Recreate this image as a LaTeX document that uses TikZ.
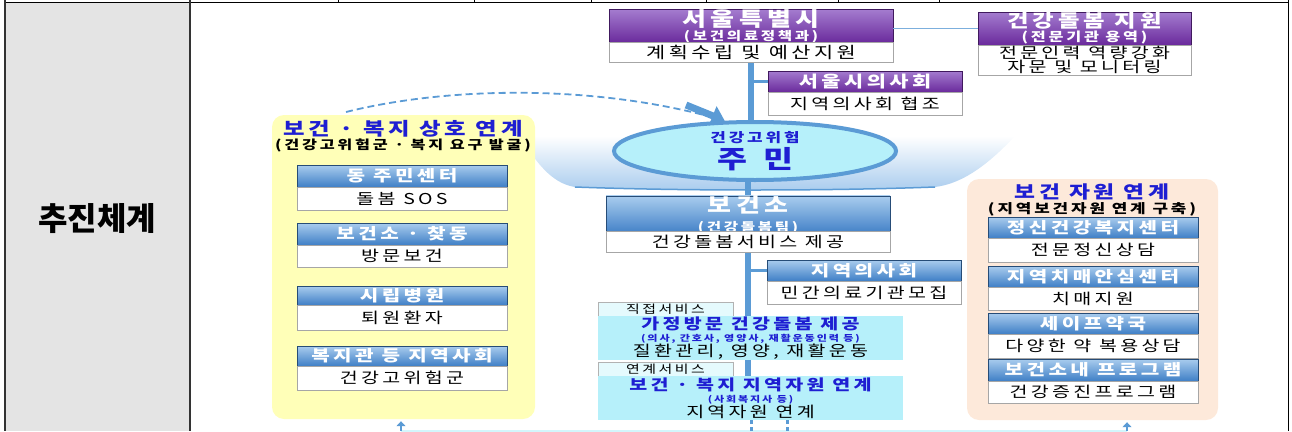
\documentclass[tikz,border=0pt]{standalone}
\usepackage{fontspec}
\setmainfont{Noto Sans CJK KR}[FakeStretch=1.3, LetterSpace=22]
\newfontfamily\titulo{Noto Sans CJK KR}
\usetikzlibrary{shapes.geometric,arrows.meta,backgrounds}
\newcommand{\tam}[2]{\fontsize{#1}{#2}\selectfont}
\definecolor{morado}{HTML}{6A2A9C}
\definecolor{moradoclaro}{HTML}{A47CCF}
\definecolor{azul}{HTML}{3F7FC6}
\definecolor{azulclaro}{HTML}{A9CCEE}
\definecolor{tronco}{HTML}{5B9BD5}
\definecolor{cian}{HTML}{B6F0FA}
\definecolor{amarillo}{HTML}{FFFFB8}
\definecolor{durazno}{HTML}{FDE9DA}
\definecolor{grisfondo}{HTML}{E4E4E4}
\definecolor{tinta}{HTML}{1E1ED2}
\begin{document}
\begin{tikzpicture}[x=1pt, y=-1pt,
        cabmorada/.style={top color=moradoclaro, bottom color=morado, draw=morado!60!black, line width=0.6pt, text=white, font=\bfseries, align=center, inner sep=0pt},
        cabazul/.style={top color=azulclaro, bottom color=azul, draw=azul!60!black, line width=0.6pt, text=white, font=\bfseries\tam{15.5}{18}, align=center, inner sep=0pt, minimum width=210, minimum height=21},
        cajablanca/.style={draw=gray!70, line width=0.7pt, fill=white, align=center, inner sep=0pt, font=\tam{15}{17}},
        cajacian/.style={fill=cian, align=center, inner sep=0pt, minimum width=305, minimum height=44},
        etiqueta/.style={draw=gray!60, line width=0.6pt, fill=cian!35, inner sep=0pt, minimum width=135, text height=10pt, text depth=2pt, font=\tam{11.5}{12}},
        grupo/.style={rounded corners=12pt, inner sep=0pt},
        titazul/.style={text=tinta, font=\bfseries\tam{18}{18}, inner sep=0pt},
        subtit/.style={font=\bfseries\tam{12.5}{13}, inner sep=0pt},
        rama/.style={tronco, line width=2.5pt},
        tallo/.style={tronco, line width=6pt}]
        \useasboundingbox (0,0) rectangle (1292,431);
        \fill[grisfondo] (5,2) rectangle (190,431);
        \draw[line width=1pt] (5,2) -- (1288,2);
        \draw[gray!40!black, line width=1.5pt] (5,0) -- (5,431);
        \draw[gray!40!black, line width=1.5pt] (190,0) -- (190,431);
        \draw[line width=1pt] (1288,0) -- (1288,431);
        \foreach \x in {338,474,591,706,838,939} \draw (\x,0) -- (\x,2);
        \node[font=\titulo\bfseries\tam{32}{32}] (tema) at (97,219) {추진체계};

        \node[grupo, fill=amarillo, minimum width=263, minimum height=304] (amarilla) at (403.5,267) {};
        \node[grupo, fill=durazno, minimum width=251, minimum height=241] (durazno) at (1092.5,299.5) {};

        \node[cabmorada, minimum width=284, minimum height=32] (seoul) at (751,26) {\tam{20}{17}서울특별시\\[1pt]\tam{12}{11}(보건의료정책과)};
        \node[cajablanca, minimum width=284, minimum height=20, font=\tam{16}{17}] (seoulsub) at (751,52) {계획수립 및 예산지원};
        \node[cabmorada, minimum width=213, minimum height=33] (apoyo) at (1084.5,28.5) {\tam{18}{15}건강돌봄 지원\\[1pt]\tam{12.5}{12}(전문기관 용역)};
        \node[cajablanca, minimum width=213, minimum height=30, font=\tam{15}{14}] (apoyosub) at (1084.5,60) {전문인력 역량강화\\자문 및 모니터링};
        \node[cabmorada, minimum width=194, minimum height=21, font=\bfseries\tam{16}{18}] (medseoul) at (865,81.5) {서울시의사회};
        \node[cajablanca, minimum width=194, minimum height=23] (medseoulsub) at (865,103.5) {지역의사회 협조};

        \node[ellipse, draw=tronco, line width=4pt, fill=cian, minimum width=282, minimum height=58, inner sep=0pt, align=center, text=tinta, font=\bfseries] (jumin) at (755,151) {\tam{13}{14}건강고위험\\[3pt]\tam{25}{26}주\hspace{16pt}민};

        \node[cabazul, minimum width=284, minimum height=32] (salud) at (748,215) {\tam{20}{17}보건소\\[1pt]\tam{12}{11}(건강돌봄팀)};
        \node[cajablanca, minimum width=284, minimum height=21] (saludsub) at (748,241.5) {건강돌봄서비스 제공};
        \node[cabazul, minimum width=194] (medlocal) at (864,270.5) {지역의사회};
        \node[cajablanca, minimum width=194, minimum height=23] (medlocalsub) at (864,292.5) {민간의료기관모집};
        \node[etiqueta, minimum height=14] (directo) at (665.5,309) {직접서비스};
        \node[cajacian] (directobox) at (750.5,338) {\textcolor{tinta}{\bfseries\tam{15}{15}가정방문 건강돌봄 제공}\\\textcolor{tinta}{\bfseries\tam{8.5}{10}(의사, 간호사, 영양사, 재활운동인력 등)}\\\tam{15}{15}질환관리, 영양, 재활운동};
        \node[etiqueta, minimum height=14] (enlace) at (665.5,369) {연계서비스};
        \node[cajacian] (enlacebox) at (750.5,398) {\textcolor{tinta}{\bfseries\tam{15}{15}보건 · 복지 지역자원 연계}\\\textcolor{tinta}{\bfseries\tam{8.5}{10}(사회복지사 등)}\\\tam{15}{15}지역자원 연계};

        \node[titazul] (tizq) at (403,129) {보건 · 복지 상호 연계};
        \node[subtit] (sizq) at (403,145) {(건강고위험군 · 복지 요구 발굴)};
        \node[cabazul, minimum height=22] (dong) at (402,176) {동 주민센터};
        \node[cajablanca, minimum width=210, minimum height=23] (dongsub) at (402,198.5) {돌봄 SOS};
        \node[cabazul, minimum height=22] (bogun) at (402,234) {보건소 · 찾동};
        \node[cajablanca, minimum width=210, minimum height=22] (bogunsub) at (402,256) {방문보건};
        \node[cabazul, minimum height=19] (hosp) at (402,295.5) {시립병원};
        \node[cajablanca, minimum width=210, minimum height=25] (hospsub) at (402,317.5) {퇴원환자};
        \node[cabazul, minimum height=20] (bokji) at (402,356) {복지관 등 지역사회};
        \node[cajablanca, minimum width=210, minimum height=24] (bokjisub) at (402,378) {건강고위험군};

        \node[titazul, font=\bfseries\tam{17.5}{18}] (tder) at (1092,192) {보건 자원 연계};
        \node[subtit, font=\bfseries\tam{13}{13}] (sder) at (1092,209) {(지역보건자원 연계 구축)};
        \node[cabazul] (mental) at (1093,227.5) {정신건강복지센터};
        \node[cajablanca, minimum width=210, minimum height=24] (mentalsub) at (1093,250) {전문정신상담};
        \node[cabazul] (demencia) at (1093,276.5) {지역치매안심센터};
        \node[cajablanca, minimum width=210, minimum height=23] (demenciasub) at (1093,298.5) {치매지원};
        \node[cabazul] (farmacia) at (1093,323.5) {세이프약국};
        \node[cajablanca, minimum width=210, minimum height=24] (farmaciasub) at (1093,346) {다양한 약 복용상담};
        \node[cabazul, minimum height=22] (programa) at (1093,370) {보건소내 프로그램};
        \node[cajablanca, minimum width=210, minimum height=22] (programasub) at (1093,392) {건강증진프로그램};

        \coordinate (inicurva) at (346,112);
        \coordinate (curvafin) at (686,105);
        \coordinate (abajo1) at (401,431);
        \coordinate (abajo2) at (1127,431);
        \coordinate (punto1) at (751,431);
        \coordinate (punto2) at (787,431);

        \begin{pgfonlayer}{background}
            \shade[top color=white, bottom color=azulclaro] (520,136) .. controls (540,170) and (556,184) .. (575,187) .. controls (680,191) and (830,191) .. (935,187) .. controls (960,184) and (985,168) .. (1015,136) -- cycle;
            \draw[tronco, line width=1.5pt] (575,187) .. controls (680,191) and (830,191) .. (935,187);
            \draw[tallo] (seoulsub.south) -- (seoulsub.south |- jumin.north);
            \draw[tallo] (jumin.south -| salud.north) -- (salud.north);
            \draw[tallo] (saludsub.south) -- (saludsub.south |- enlacebox.south);
            \draw[rama] (seoulsub.south |- medseoul.west) -- (medseoul.west);
            \draw[rama] (saludsub.south |- medlocal.west) -- (medlocal.west);
        \end{pgfonlayer}
        \draw[tronco!80, line width=1.2pt] (seoul.east |- apoyo.west) -- (apoyo.west);
        \draw[tronco, line width=1.8pt, dash pattern=on 7pt off 4pt] (inicurva) .. controls (450,86) and (600,84) .. (jumin.135);
        \draw[tronco, line width=7pt, -{Triangle[length=13pt, width=20pt]}] (curvafin) -- (jumin.135);
        \draw[cian!60, line width=2pt] (abajo1) -- (abajo2);
        \draw[tronco, line width=3pt, dash pattern=on 4pt off 3pt] (enlacebox.south -| punto1) -- (punto1);
        \draw[tronco, line width=3pt, dash pattern=on 4pt off 3pt] (enlacebox.south -| punto2) -- (punto2);
        \draw[tronco, line width=2pt, -{Triangle[length=5pt, width=9pt]}, shorten >=2pt] (abajo1) -- (abajo1 |- amarilla.south);
        \draw[tronco, line width=2pt, -{Triangle[length=5pt, width=9pt]}, shorten >=2pt] (abajo2) -- (abajo2 |- durazno.south);
    \end{tikzpicture}
\end{document}
